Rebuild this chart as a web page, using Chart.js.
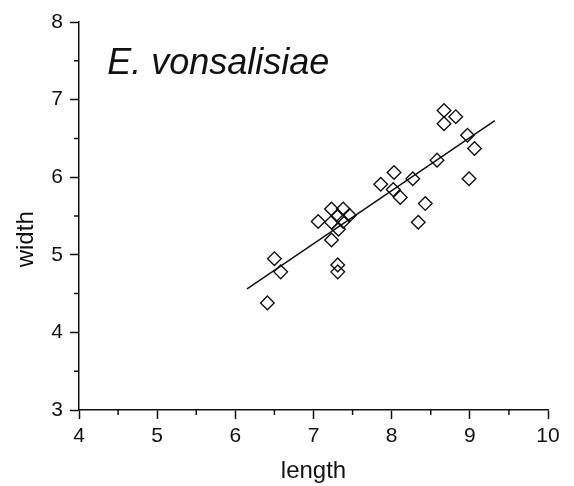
<!DOCTYPE html>
<html>
<head>
<meta charset="utf-8">
<script src="https://cdn.jsdelivr.net/npm/chart.js@4/dist/chart.umd.min.js"></script>
<style>
  html, body { margin: 0; padding: 0; background: #fff; }
  #wrap { width: 574px; height: 486px; }
</style>
</head>
<body>
<div id="wrap"><canvas id="my-chart"></canvas></div>
<script>
// measured points (length, width)
const lengthVals = [6.41, 6.50, 6.58, 7.06, 7.23, 7.23, 7.23, 7.31, 7.32, 7.38, 7.38, 7.46, 7.31, 7.31,
  7.86, 8.03, 8.02, 8.11, 8.27, 8.34, 8.43, 8.58, 8.67, 8.67, 8.82, 8.97, 9.06, 8.99];
const widthVals = [4.38, 4.95, 4.78, 5.43, 5.59, 5.42, 5.19, 5.50, 5.33, 5.59, 5.43, 5.51, 4.87, 4.78,
  5.91, 6.06, 5.84, 5.74, 5.98, 5.42, 5.66, 6.22, 6.86, 6.69, 6.78, 6.54, 6.37, 5.98];

// fitted line ends
const fitX = [6.15, 9.32];
const fitY = [4.56, 6.73];

const xTicks = [4, 5, 6, 7, 8, 9, 10];
const yTicks = [3, 4, 5, 6, 7, 8];
const speciesName = "E. vonsalisiae";
const yTitle = "width";

const points = lengthVals.map((v, i) => ({ x: v, y: widthVals[i] }));
const fitLine = fitX.map((v, i) => ({ x: v, y: fitY[i] }));

const FONT = "'Liberation Sans', Arial, sans-serif";
const INK = "#111";

// minor ticks at the half units, the species label and the y title
const extras = {
  id: "extras",
  afterDraw(chart) {
    const ctx = chart.ctx;
    const xs = chart.scales.x;
    const ys = chart.scales.y;
    ctx.save();
    ctx.strokeStyle = INK;
    ctx.lineWidth = 1.5;
    ctx.beginPath();
    for (let i = 0; i < xTicks.length - 1; i++) {
      const px = xs.getPixelForValue(xTicks[i] + 0.5);
      ctx.moveTo(px, xs.top);
      ctx.lineTo(px, xs.top + 5);
    }
    for (let i = 0; i < yTicks.length - 1; i++) {
      const py = ys.getPixelForValue(yTicks[i] + 0.5);
      ctx.moveTo(ys.right, py);
      ctx.lineTo(ys.right - 5, py);
    }
    ctx.stroke();

    ctx.fillStyle = INK;
    ctx.font = "italic 36px " + FONT;
    ctx.textBaseline = "alphabetic";
    ctx.textAlign = "left";
    ctx.fillText(speciesName, xs.getPixelForValue(4.36), ys.getPixelForValue(7.33));

    // y title sits a bit below the axis middle in the original
    ctx.font = "24px " + FONT;
    ctx.textAlign = "center";
    ctx.textBaseline = "middle";
    ctx.translate(ys.left + 26, ys.getPixelForValue(5.2));
    ctx.rotate(-Math.PI / 2);
    ctx.fillText(yTitle, 0, 0);
    ctx.restore();
  },
};

const ctx = document.getElementById("my-chart").getContext("2d");
const chart = new Chart(ctx, {
  type: "scatter",
  data: {
    datasets: [
      {
        label: "data",
        data: points,
        pointStyle: "rectRot",
        pointRadius: 6.8,
        pointHoverRadius: 6.8,
        pointBorderWidth: 1.4,
        pointBorderColor: INK,
        pointBackgroundColor: "rgba(0,0,0,0)",
      },
      {
        label: "fit",
        type: "line",
        data: fitLine,
        borderColor: INK,
        borderWidth: 1.5,
        pointRadius: 0,
        fill: false,
      },
    ],
  },
  options: {
    responsive: true,
    maintainAspectRatio: false,
    animation: false,
    layout: { padding: { left: 0, top: 22, right: 26, bottom: 0 } },
    plugins: { legend: { display: false }, tooltip: { enabled: false } },
    scales: {
      x: {
        type: "linear",
        min: 4,
        max: 10,
        afterBuildTicks: (s) => { s.ticks = xTicks.map((v) => ({ value: v })); },
        afterFit: (s) => { s.height = 76; },
        border: { color: INK, width: 1.5 },
        grid: { drawOnChartArea: false, drawTicks: true, tickLength: 9, tickColor: INK, tickWidth: 1.5 },
        ticks: { color: INK, font: { family: FONT, size: 21 }, padding: 5, autoSkip: false, maxRotation: 0 },
        title: { display: true, text: "length", color: INK, font: { family: FONT, size: 24 }, padding: { top: 0, bottom: 0 } },
      },
      y: {
        type: "linear",
        min: 3,
        max: 8,
        afterBuildTicks: (s) => { s.ticks = yTicks.map((v) => ({ value: v })); },
        afterFit: (s) => { s.width = 79; },
        border: { color: INK, width: 1.5 },
        grid: { drawOnChartArea: false, drawTicks: true, tickLength: 9, tickColor: INK, tickWidth: 1.5 },
        ticks: { color: INK, font: { family: FONT, size: 21 }, padding: 7, autoSkip: false },
        title: { display: false },
      },
    },
  },
  plugins: [extras],
});
</script>
</body>
</html>
